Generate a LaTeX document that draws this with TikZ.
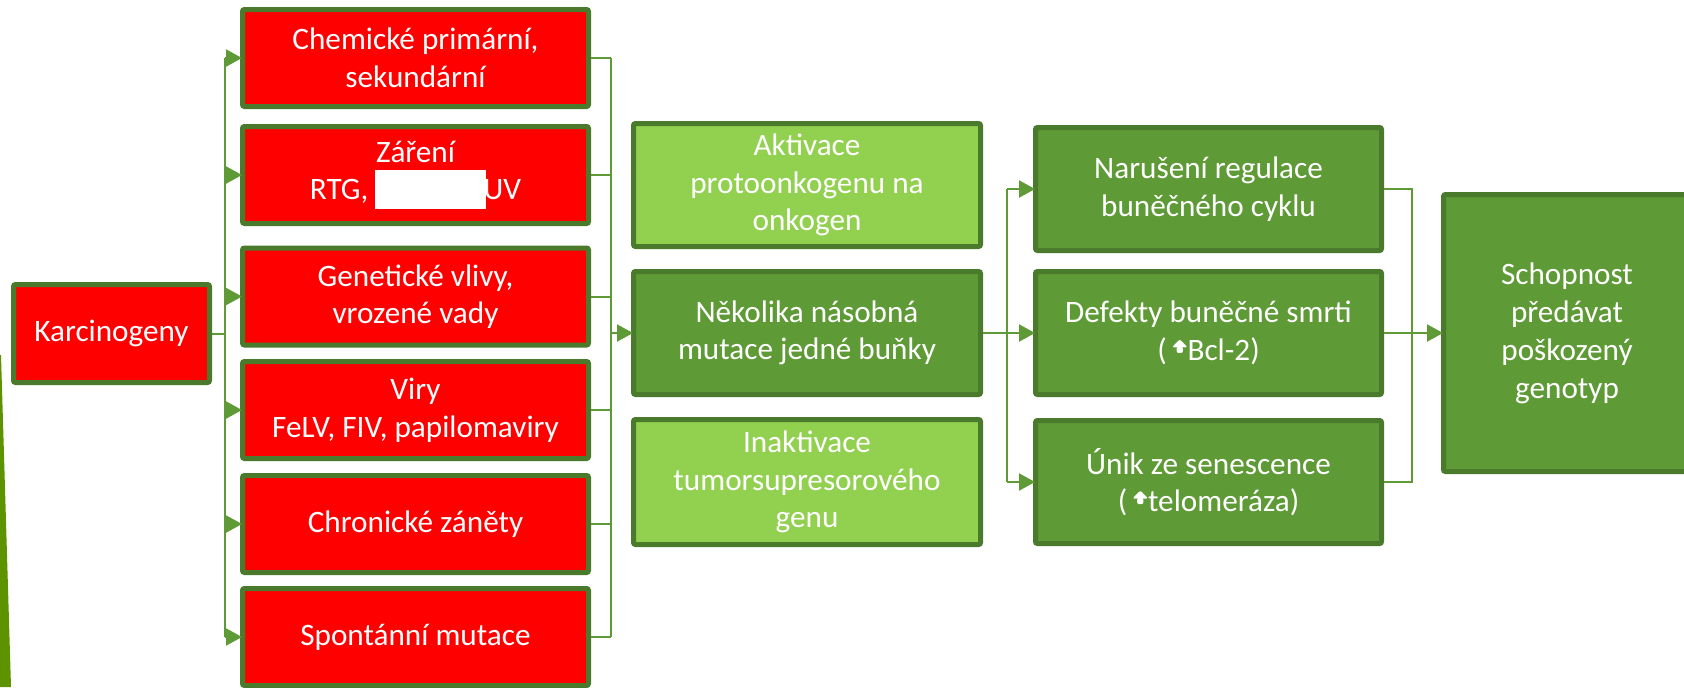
\documentclass[tikz,border=0pt]{standalone}
\usepackage{fontspec}
\setmainfont{Carlito}
\usetikzlibrary{arrows.meta}
\definecolor{redfill}{HTML}{FF0000}
\definecolor{bord}{HTML}{4A7A2B}
\definecolor{darkfill}{HTML}{5E9A35}
\definecolor{lightfill}{HTML}{92D050}
\definecolor{conn}{HTML}{5E9A35}
\definecolor{wedge}{HTML}{5E9300}
\newcommand{\upmark}{\tikz[baseline=0pt,x=1em,y=1em]{\fill[white] (0.15,0.24) rectangle (0.35,0.44); \fill[white] (0,0.42) -- (0.5,0.42) -- (0.25,0.68) -- cycle;}}
\tikzset{
  box/.style={draw=bord, line width=2.5pt, rectangle, rounded corners=1pt, align=center, text=white,
    font=\fontsize{15.6}{18.8}\selectfont, inner sep=2pt},
  redbox/.style={box, fill=redfill, minimum width=173pt, minimum height=48.5pt},
  lbox/.style={box, fill=lightfill, minimum width=173.5pt, minimum height=61.5pt},
  dbox/.style={box, fill=darkfill, minimum width=173.5pt, minimum height=61.5pt},
  ln/.style={draw=conn, line width=1pt},
  arr/.style={ln, -{Triangle[length=8pt,width=8.5pt]}, shorten >=-1pt},
}
\begin{document}
\begin{tikzpicture}[x=0.5pt,y=-0.5pt]
\clip (0,0) rectangle (1684,687);
\fill[white] (0,0) rectangle (1684,687);
% decorative wedge at left edge
\fill[wedge] (0,355) -- (1,355) -- (11,687) -- (0,687) -- cycle;

% nodes
\node[redbox, minimum width=98pt, minimum height=49pt] (k) at (111.5,333.5) {Karcinogeny};

\node[redbox] (r1) at (415.5,58) {Chemické primární,\\sekundární};
\node[redbox] (r2) at (415.5,175) {Záření\\RTG, {\color{white}\rule[-4.5pt]{55.5pt}{19.5pt}}\hspace{-1.5pt}UV};
\node[redbox] (r3) at (415.5,296.5) {Genetické vlivy,\\vrozené vady};
\node[redbox] (r4) at (415.5,410) {Viry\\FeLV, FIV, papilomaviry};
\node[redbox] (r5) at (415.5,524) {Chronické záněty};
\node[redbox] (r6) at (415.5,637) {Spontánní mutace};

\node[lbox] (n1) at (807,185) {Aktivace\\protoonkogenu na\\onkogen};
\node[dbox] (n2) at (807,333) {Několika násobná\\mutace jedné buňky};
\node[lbox, minimum height=62.5pt] (n3) at (807,482) {Inaktivace\\tumorsupresorového\\genu};

\node[dbox, minimum width=173pt] (m1) at (1208.5,189) {Narušení regulace\\buněčného cyklu};
\node[dbox, minimum width=173pt] (m2) at (1208.5,333) {Defekty buněčné smrti\\(\,\upmark Bcl-2)};
\node[dbox, minimum width=173pt] (m3) at (1208.5,482) {Únik ze senescence\\(\,\upmark telomeráza)};

\node[dbox, minimum width=123.5pt, minimum height=138.5pt, font=\fontsize{15.6}{19}\selectfont] (s) at (1567,333)
  {Schopnost\\předávat\\poškozený\\genotyp};

% junction coordinates
\coordinate (kx) at (225,0);
\coordinate (rx) at (611,0);
\coordinate (nx) at (1007,0);
\coordinate (mx) at (1412,0);

% Karcinogeny -> red boxes
\draw[ln] (k.east) -- (kx |- k.east);
\draw[ln] (kx |- r1.west) -- (kx |- r6.west);
\foreach \r in {r1,r2,r3,r4,r5,r6}{
  \draw[arr] (kx |- \r.west) -- (\r.west);
}

% red boxes -> Několika
\foreach \r in {r1,r2,r3,r4,r5,r6}{
  \draw[ln] (\r.east) -- (rx |- \r.east);
}
\draw[ln] (rx |- r1.east) -- (rx |- r6.east);
\draw[arr] (rx |- n2.west) -- (n2.west);

% Několika -> column 3
\draw[arr] (n2.east) -- (m2.west);
\draw[ln] (nx |- m1.west) -- (nx |- m3.west);
\draw[arr] (nx |- m1.west) -- (m1.west);
\draw[arr] (nx |- m3.west) -- (m3.west);

% column 3 -> Schopnost
\draw[ln] (m1.east) -- (mx |- m1.east) -- (mx |- m3.east) -- (m3.east);
\draw[arr] (m2.east) -- (s.west);
\end{tikzpicture}
\end{document}
